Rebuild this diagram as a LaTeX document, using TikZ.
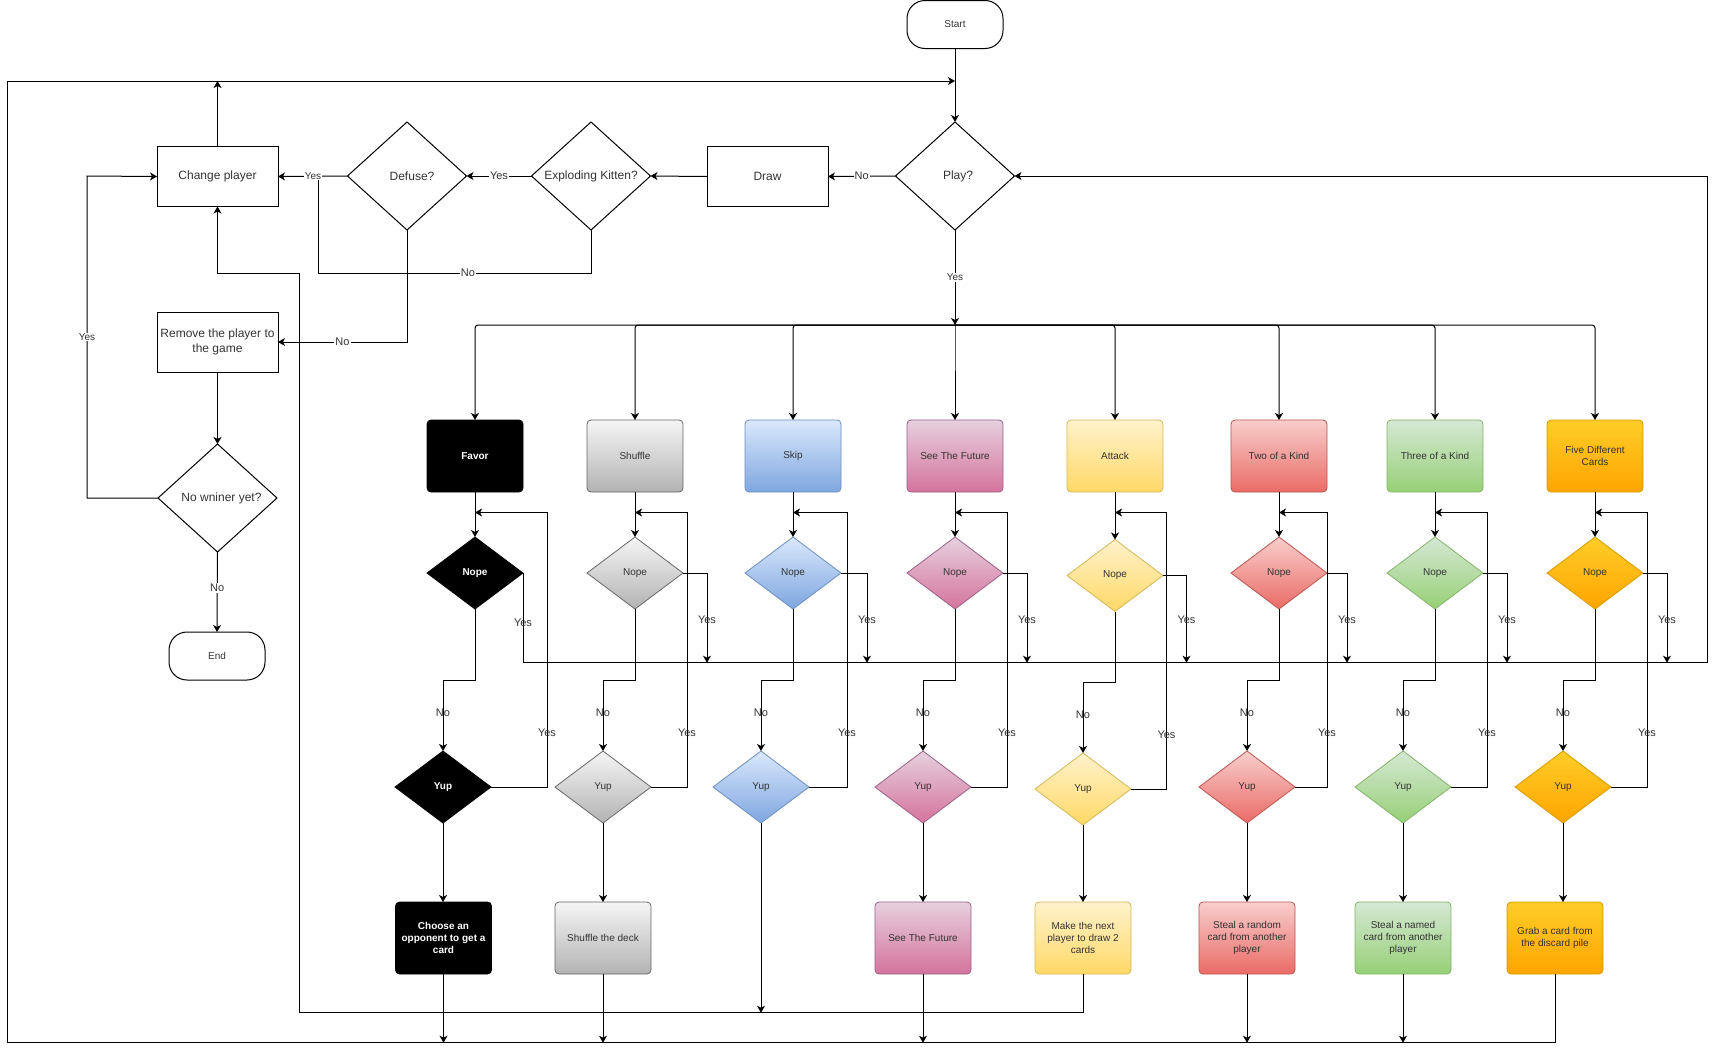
\documentclass[tikz,border=0pt]{standalone}
\usepackage{fontspec}
\setmainfont{Liberation Sans}
\usetikzlibrary{shapes.geometric,arrows.meta,calc}
\definecolor{gT}{HTML}{F5F5F5}\definecolor{gB}{HTML}{B3B3B3}\definecolor{gS}{HTML}{666666}
\definecolor{bT}{HTML}{DAE8FC}\definecolor{bB}{HTML}{7EA6E0}\definecolor{bS}{HTML}{6C8EBF}
\definecolor{pT}{HTML}{E6D0DE}\definecolor{pB}{HTML}{D5739D}\definecolor{pS}{HTML}{996185}
\definecolor{yT}{HTML}{FFF2CC}\definecolor{yB}{HTML}{FFD966}\definecolor{yS}{HTML}{D6B656}
\definecolor{rT}{HTML}{F8CECC}\definecolor{rB}{HTML}{EA6B66}\definecolor{rS}{HTML}{B85450}
\definecolor{grT}{HTML}{D5E8D4}\definecolor{grB}{HTML}{97D077}\definecolor{grS}{HTML}{82B366}
\definecolor{oT}{HTML}{FFCD28}\definecolor{oB}{HTML}{FFA500}\definecolor{oS}{HTML}{D79B00}
\definecolor{txt}{HTML}{333333}
\begin{document}
\begin{tikzpicture}[x=1pt,y=-1pt,
  base/.style={draw=black, line width=1pt, outer sep=0pt, align=center, text=txt,
    font=\fontsize{12}{14.4}\selectfont},
  proc/.style={base, rectangle, minimum width=121pt, minimum height=60pt, inner sep=2pt},
  decision/.style={base, diamond, minimum width=119pt, minimum height=108pt, inner sep=0pt},
  term/.style={base, rectangle, rounded corners=18pt, minimum width=96pt, minimum height=48pt,
    font=\fontsize{10}{12}\selectfont},
  card/.style={rectangle, line width=0.8pt, outer sep=0pt, rounded corners=4pt, minimum width=96pt,
    minimum height=72pt, inner sep=2pt, align=center, text=txt, font=\fontsize{10}{12}\selectfont},
  dia/.style={diamond, line width=0.8pt, outer sep=0pt, minimum width=96pt, minimum height=72pt,
    inner sep=0pt, align=center, text=txt, font=\fontsize{10}{12}\selectfont},
  cblack/.style={fill=black, draw=black, text=white, font=\fontsize{10}{12}\selectfont\bfseries},
  cgray/.style={top color=gT, bottom color=gB, draw=gS},
  cblue/.style={top color=bT, bottom color=bB, draw=bS},
  cpink/.style={top color=pT, bottom color=pB, draw=pS},
  cyellow/.style={top color=yT, bottom color=yB, draw=yS},
  cred/.style={top color=rT, bottom color=rB, draw=rS},
  cgreen/.style={top color=grT, bottom color=grB, draw=grS},
  corange/.style={top color=oT, bottom color=oB, draw=oS},
  arr/.style={draw=black, line width=1pt, -{Stealth[length=7pt,width=8pt,inset=2pt]}},
  ln/.style={draw=black, line width=1pt},
  lbl/.style={fill=white, inner sep=1pt, text=txt, font=\fontsize{11}{13}\selectfont},
  clbl/.style={inner sep=0pt, text=txt, font=\fontsize{11}{13}\selectfont}
]
\useasboundingbox (0,0) rectangle (1717,1052);

% ---- main flow nodes
\node[term] (start) at (955,24.5) {Start};
\node[decision] (play) at (955,176) {\hspace*{6pt}Play?};
\node[proc] (drawn) at (767.5,176.5) {Draw};
\node[decision] (ek) at (591,176) {Exploding Kitten?};
\node[decision] (defuse) at (407,176) {\hspace*{10pt}Defuse?};
\node[proc] (change) at (217.5,176.5) {Change player};
\node[proc] (remove) at (217.5,342) {Remove the player to\\the game};
\node[decision] (winner) at (217.5,498) {\hspace*{8pt}No wniner yet?};
\node[term] (endn) at (217,656) {End};

\coordinate (topj) at (955,81);
\coordinate (bus) at (955,325);

% ---- cards
\node[card, cblack] (c1) at (475,456) {Favor};
\node[card, cgray] (c2) at (635,456) {Shuffle};
\node[card, cblue] (c3) at (793,456) {Skip};
\node[card, cpink] (c4) at (955,456) {See The Future};
\node[card, cyellow] (c5) at (1115,456) {Attack};
\node[card, cred] (c6) at (1279,456) {Two of a Kind};
\node[card, cgreen] (c7) at (1435,456) {Three of a Kind};
\node[card, corange] (c8) at (1595,456) {Five Different\\Cards};

% ---- nope diamonds
\node[dia, cblack] (n1) at (475,573) {Nope};
\node[dia, cgray] (n2) at (635,573) {Nope};
\node[dia, cblue] (n3) at (793,573) {Nope};
\node[dia, cpink] (n4) at (955,573) {Nope};
\node[dia, cyellow] (n5) at (1115,575.5) {Nope};
\node[dia, cred] (n6) at (1279,573) {Nope};
\node[dia, cgreen] (n7) at (1435,573) {Nope};
\node[dia, corange] (n8) at (1595,573) {Nope};

% ---- yup diamonds
\node[dia, cblack] (y1) at (443,787) {Yup};
\node[dia, cgray] (y2) at (603,787) {Yup};
\node[dia, cblue] (y3) at (761,787) {Yup};
\node[dia, cpink] (y4) at (923,787) {Yup};
\node[dia, cyellow] (y5) at (1083,789) {Yup};
\node[dia, cred] (y6) at (1247,787) {Yup};
\node[dia, cgreen] (y7) at (1403,787) {Yup};
\node[dia, corange] (y8) at (1563,787) {Yup};

% ---- results
\node[card, cblack] (r1) at (443.5,938) {Choose an\\opponent to get a\\card};
\node[card, cgray] (r2) at (603,938) {Shuffle the deck};
\node[card, cpink] (r4) at (923,938) {See The Future};
\node[card, cyellow] (r5) at (1083,938) {Make the next\\player to draw 2\\cards};
\node[card, cred] (r6) at (1247,938) {Steal a random\\card from another\\player};
\node[card, cgreen] (r7) at (1403,938) {Steal a named\\card from another\\player};
\node[card, corange] (r8) at (1555,938) {Grab a card from\\the discard pile};

% ---- main flow edges
\draw[arr] (start.south) -- (play.north);
\draw[arr] (play.west) -- node[lbl]{No} (drawn.east);
\draw[arr] (drawn.west) -- (ek.east);
\draw[arr] (ek.west) -- node[lbl]{Yes} (defuse.east);
\draw[ln] (ek.south) |- (318,273) -- (318,176);
\node[lbl] at (468,273) {No};
\draw[arr] (defuse.west) -- (change.east);
\node[lbl, font=\fontsize{10}{12}\selectfont] at (313,176) {Yes};
\draw[arr] (defuse.south) |- node[lbl, pos=0.75]{No} (remove.east);
\draw[arr] (remove.south) -- (winner.north);
\draw[arr] (winner.south) -- node[lbl, pos=0.45]{No} (endn.north);
\draw[arr] (winner.west) -- (87,498) -- node[lbl, font=\fontsize{10}{12}\selectfont, pos=0.5]{Yes} (87,176) -- (change.west);
\draw[arr] (change.north) -- (change.north |- topj);
\draw[arr] (play.south) -- node[lbl, font=\fontsize{10}{12}\selectfont]{Yes} (bus);
\foreach \i in {1,...,8}{
  \draw[arr, rounded corners=3pt] (bus) -| (c\i.north);
}

% ---- column edges
\foreach \i/\lp in {1/72,2/52,3/54,4/52,5/51.5,6/48,7/52,8/52}{
  \draw[arr] (c\i.south) -- (n\i.north);
  \draw[arr] (n\i.south) -- ++(0,71) -| (y\i.north);
  \node[clbl] at ($(y\i.north)+(0,-38)$) {No};
  \coordinate (j\i) at ($(c\i.south)+(0,20.5)$);
  \draw[arr] (y\i.east) -| ($(j\i)+(\lp,0)$) -- (j\i);
  \node[clbl] at ($(y\i.east)+(\lp-16,-54)$) {Yes};
}
\foreach \i/\ny in {2/72,3/74,4/72,5/71.5,6/68,7/72,8/72}{
  \draw[arr] (n\i.east) -| ($(c\i.center)+(\ny,206.7)$);
  \node[clbl] at ($(c\i.center)+(\ny,164)$) {Yes};
}
\draw[arr] (n1.east) |- (1707,662.7) |- (play.east);
\node[clbl] at ($(n1.east)+(0,50)$) {Yes};

% ---- yup to results
\foreach \i in {1,2,4,5,6,7,8}{
  \draw[arr] (y\i.south) -- (y\i.south |- r\i.north);
}
\draw[arr] (y3.south) -- (761,1012.7);
\foreach \i in {1,2,4,6,7}{
  \draw[arr] (r\i.south) -- (r\i.south |- 0,1042.7);
}
\draw[arr] (r5.south) -- (1083,1012.7) -- (299,1012.7) -- (299,273) -| (change.south);
\draw[arr] (r8.south) -- (1555,1042.7) -- (7,1042.7) -- (7,81) -- (topj);
\end{tikzpicture}
\end{document}
